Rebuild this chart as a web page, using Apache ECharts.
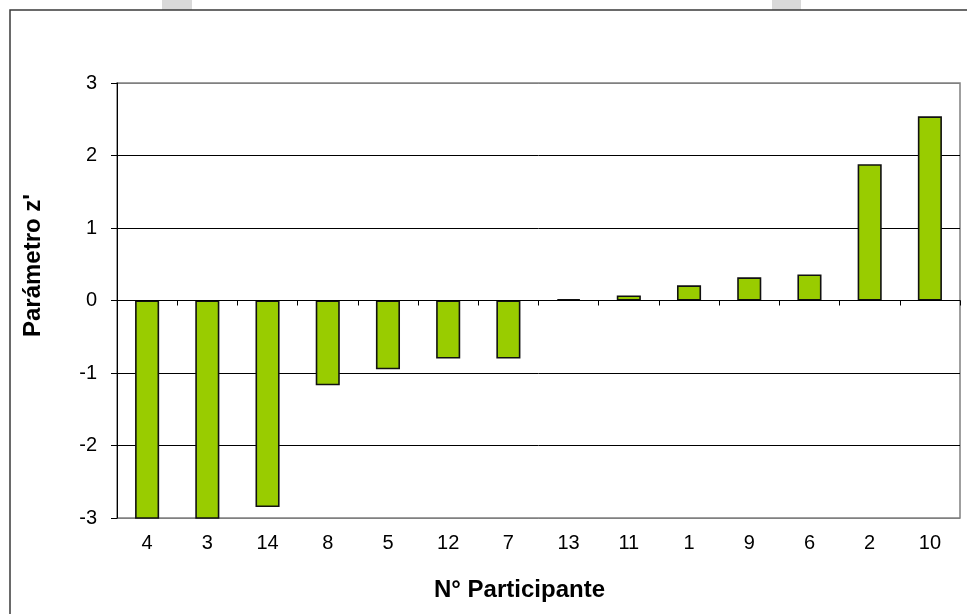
<!DOCTYPE html>
<html><head><meta charset="utf-8">
<script src="https://cdn.jsdelivr.net/npm/echarts@6/dist/echarts.min.js"></script>
<style>html,body{margin:0;padding:0;background:#fff}#c{width:967px;height:614px}</style>
</head><body><div id="c"></div>
<script>
var categories = ['4','3','14','8','5','12','7','13','11','1','9','6','2','10'];
var values = [-3.3, -3.3, -2.85, -1.17, -0.95, -0.8, -0.8, 0.02, 0.07, 0.21, 0.32, 0.36, 1.88, 2.54];
var yTicks = {min: -3, max: 3, interval: 1};

var chart = echarts.init(document.getElementById('c'), null, {renderer: 'canvas'});
var font = '"Liberation Sans", Arial, sans-serif';
chart.setOption({
  animation: false,
  backgroundColor: '#ffffff',
  graphic: [
    {type: 'rect', left: 162, top: 0, shape: {width: 30, height: 10}, style: {fill: '#d9d9d9'}, z: 0},
    {type: 'rect', left: 772, top: 0, shape: {width: 29, height: 10}, style: {fill: '#d9d9d9'}, z: 0},
    {type: 'rect', shape: {x: 10, y: 10, width: 1000, height: 1000}, style: {fill: 'none', stroke: '#3a3a3a', lineWidth: 1.5}, z: 0}
  ],
  grid: {left: 117, right: 7, top: 83, bottom: 96, show: true, borderColor: '#808080', borderWidth: 1.5, backgroundColor: 'transparent'},
  xAxis: [
    {
      type: 'category', data: categories, position: 'bottom',
      axisLine: {onZero: true, lineStyle: {color: '#000', width: 1}},
      axisTick: {show: true, length: 5, lineStyle: {color: '#000'}},
      axisLabel: {show: false},
      z: 5
    },
    {
      type: 'category', data: categories, position: 'bottom',
      axisLine: {onZero: false, show: false},
      axisTick: {show: false},
      axisLabel: {show: true, color: '#000', fontSize: 20, fontFamily: font, margin: 15},
      name: 'N° Participante', nameLocation: 'middle', nameGap: 60,
      nameTextStyle: {color: '#000', fontSize: 24, fontWeight: 'bold', fontFamily: font, padding: [0, 38, 0, 0]}
    }
  ],
  yAxis: {
    type: 'value', min: yTicks.min, max: yTicks.max, interval: yTicks.interval,
    axisLine: {show: true, lineStyle: {color: '#000', width: 1}},
    axisTick: {show: true, length: 6, lineStyle: {color: '#000'}},
    axisLabel: {color: '#000', fontSize: 20, fontFamily: font, margin: 20},
    splitLine: {show: true, lineStyle: {color: ['#808080', '#000', '#000', '#000', '#000', '#000', '#808080'], width: 1}},
    name: "Parámetro z'", nameLocation: 'middle', nameGap: 72, nameRotate: 90,
    nameTextStyle: {color: '#000', fontSize: 24, fontWeight: 'bold', fontFamily: font, padding: [0, 0, 0, 70]}
  },
  series: [{
    type: 'bar', xAxisIndex: 0, data: values, barWidth: '40%',
    itemStyle: {color: '#99cc00', borderColor: '#111', borderWidth: 1.6},
    clip: true
  }]
});
</script></body></html>
